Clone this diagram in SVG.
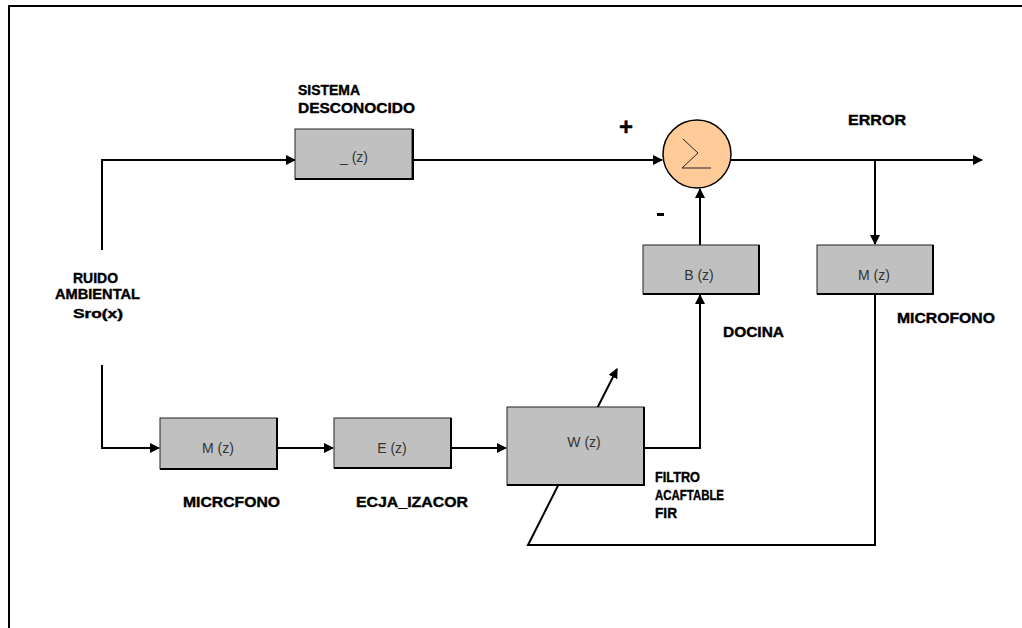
<svg xmlns="http://www.w3.org/2000/svg" width="1022" height="628" viewBox="0 0 1022 628">
<defs>
<marker id="arr" viewBox="0 0 10 10" refX="9" refY="5" markerWidth="5" markerHeight="5" orient="auto" markerUnits="strokeWidth">
<path d="M0,0 L10,5 L0,10 z" fill="#000"/>
</marker>
<style>
.lbl{font-family:"Liberation Sans",Arial,sans-serif;font-weight:bold;font-size:15px;fill:#000;stroke:#000;stroke-width:0.4}
.box{fill:#c0c0c0;stroke:#222;stroke-width:1}
.sh{stroke:#000;stroke-width:2;fill:none}
.bt{font-family:"Liberation Sans",Arial,sans-serif;font-size:14px;fill:#333;text-anchor:middle}
.ln{stroke:#000;stroke-width:2;fill:none}
</style>
</defs>
<rect width="1022" height="628" fill="#fff"/>
<path d="M9,628 L9,6 L1022,6" fill="none" stroke="#000" stroke-width="2"/>

<g id="connectors">
<path class="ln" d="M102,250 L102,160 L295,160" marker-end="url(#arr)"/>
<path class="ln" d="M413,160 L662,160" marker-end="url(#arr)"/>
<path class="ln" d="M731,160 L982,160" marker-end="url(#arr)"/>
<path class="ln" d="M875,160 L875,244" marker-end="url(#arr)"/>
<path class="ln" d="M700,245 L700,189" marker-end="url(#arr)"/>
<path class="ln" d="M645,448 L700,448 L700,295" marker-end="url(#arr)"/>
<path class="ln" d="M102,365 L102,448 L159,448" marker-end="url(#arr)"/>
<path class="ln" d="M278,448 L333,448" marker-end="url(#arr)"/>
<path class="ln" d="M452,448 L506,448" marker-end="url(#arr)"/>
<path class="ln" d="M875,295 L875,545 L528,545 L617,369" marker-end="url(#arr)"/>
</g>

<g id="sistema">
<rect class="box" x="295" y="129" width="117" height="50"/>
<path class="sh" d="M295,179 L413,179 L413,129"/>
<text class="bt" x="354" y="162">_ (z)</text>
<text class="lbl" x="298" y="95" textLength="62" lengthAdjust="spacingAndGlyphs">SISTEMA</text>
<text class="lbl" x="298" y="113" textLength="117" lengthAdjust="spacingAndGlyphs">DESCONOCIDO</text>
</g>

<g id="sumador">
<circle cx="697" cy="154" r="34" fill="#ffcc99" stroke="#000" stroke-width="1.5"/>
<polyline points="683,139 698,153 682,168 711,168" fill="none" stroke="#222" stroke-width="1"/>
<text class="lbl" x="626" y="135" text-anchor="middle" style="font-size:24px">+</text>
<rect x="657" y="213" width="7" height="3" fill="#000"/>
</g>

<g id="error">
<text class="lbl" x="848" y="125" textLength="58" lengthAdjust="spacingAndGlyphs">ERROR</text>
</g>

<g id="bocina">
<rect class="box" x="643" y="245" width="116" height="49"/>
<path class="sh" d="M643,294 L759,294 L759,245"/>
<text class="bt" x="699" y="280">B (z)</text>
<text class="lbl" x="723" y="337" textLength="61" lengthAdjust="spacingAndGlyphs">DOCINA</text>
</g>

<g id="microfono-error">
<rect class="box" x="817" y="245" width="116" height="49"/>
<path class="sh" d="M817,294 L933,294 L933,245"/>
<text class="bt" x="874" y="280">M (z)</text>
<text class="lbl" x="897" y="323" textLength="98" lengthAdjust="spacingAndGlyphs">MICROFONO</text>
</g>

<g id="ruido">
<text class="lbl" x="73" y="283" textLength="45" lengthAdjust="spacingAndGlyphs">RUIDO</text>
<text class="lbl" x="55" y="299" textLength="85" lengthAdjust="spacingAndGlyphs">AMBIENTAL</text>
<text class="lbl" x="73" y="318" style="font-size:12px" textLength="50" lengthAdjust="spacingAndGlyphs">Sro(x)</text>
</g>

<g id="microfono-ref">
<rect class="box" x="160" y="418" width="117" height="51"/>
<path class="sh" d="M160,469 L277,469 L277,418"/>
<text class="bt" x="218" y="453">M (z)</text>
<text class="lbl" x="183" y="507" textLength="97" lengthAdjust="spacingAndGlyphs">MICRCFONO</text>
</g>

<g id="ecualizador">
<rect class="box" x="334" y="418" width="117" height="50"/>
<path class="sh" d="M334,468 L451,468 L451,418"/>
<text class="bt" x="392" y="453">E (z)</text>
<text class="lbl" x="356" y="507" textLength="112" lengthAdjust="spacingAndGlyphs">ECJA_IZACOR</text>
</g>

<g id="filtro">
<rect class="box" x="507" y="407" width="137" height="78"/>
<path class="sh" d="M507,485 L644,485 L644,407"/>
<text class="bt" x="584" y="447">W (z)</text>
<text class="lbl" x="655" y="482" textLength="45" lengthAdjust="spacingAndGlyphs">FILTRO</text>
<text class="lbl" x="655" y="500" textLength="69" lengthAdjust="spacingAndGlyphs">ACAFTABLE</text>
<text class="lbl" x="655" y="518" textLength="22" lengthAdjust="spacingAndGlyphs">FIR</text>
</g>
</svg>
